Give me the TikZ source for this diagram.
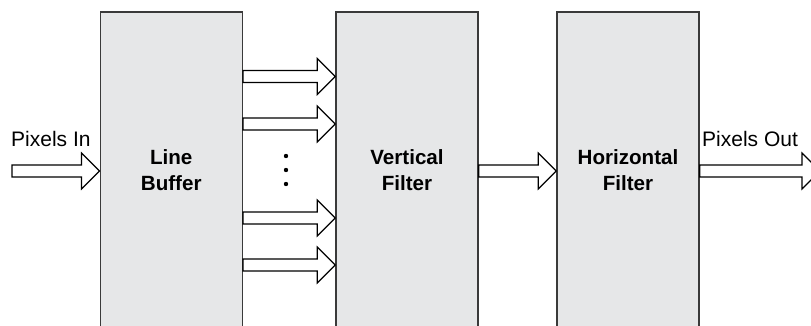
\documentclass[tikz,border=0pt]{standalone}
\usepackage{fontspec}
\setmainfont{Liberation Sans}
\usetikzlibrary{calc}
\definecolor{boxfill}{HTML}{E6E7E8}
\definecolor{boxline}{HTML}{3A3A3A}
\tikzset{
  box/.style={draw=boxline, fill=boxfill, line width=1.5pt, minimum width=142pt,
    minimum height=316pt, inner sep=0pt, align=center,
    font=\fontsize{20.6}{26}\selectfont\bfseries},
  arrowshape/.style={draw=black, fill=white, line width=1.2pt, line join=miter},
  lbl/.style={font=\fontsize{21}{24}\selectfont, inner sep=0pt, anchor=base west},
  dot/.style={fill=black, draw=none}
}
\newcommand\blockarrow[2]{%
  \draw[arrowshape] let \p1=(#1), \p2=(#2) in
    (\x1,\y1+6pt) -- (\x2-18pt,\y1+6pt) -- (\x2-18pt,\y1+18pt) -- (\x2,\y1)
    -- (\x2-18pt,\y1-18pt) -- (\x2-18pt,\y1-6pt) -- (\x1,\y1-6pt) -- cycle;}
\begin{document}
\begin{tikzpicture}[x=1pt,y=1pt]
\useasboundingbox (0,0) rectangle (811,325);
\clip (0,0) rectangle (811,325);
\fill[white] (0,0) rectangle (811,325);
\node[box] (lb) at (171.25,155) {Line\\Buffer};
\node[box] (vf) at (407,155) {Vertical\\Filter};
\node[box] (hf) at (628,155) {Horizontal\\Filter};
\coordinate (in) at (12,154);
\coordinate (out) at (820,154);
\coordinate (r1) at (0,248.5);
\coordinate (r2) at (0,201);
\coordinate (r3) at (0,107);
\coordinate (r4) at (0,60);
\coordinate (rm) at (0,154);
\node[lbl] (pin) at (11,178.5) {Pixels In};
\node[lbl] (pout) at (702,178.5) {Pixels Out};
\blockarrow{in}{lb.west|-rm}
\blockarrow{lb.east|-r1}{vf.west|-r1}
\blockarrow{lb.east|-r2}{vf.west|-r2}
\blockarrow{lb.east|-r3}{vf.west|-r3}
\blockarrow{lb.east|-r4}{vf.west|-r4}
\blockarrow{vf.east|-rm}{hf.west|-rm}
\blockarrow{hf.east|-rm}{out}
\fill[dot] (286,169) circle (2.2);
\fill[dot] (286,155) circle (2.2);
\fill[dot] (286,141) circle (2.2);
\end{tikzpicture}
\end{document}
